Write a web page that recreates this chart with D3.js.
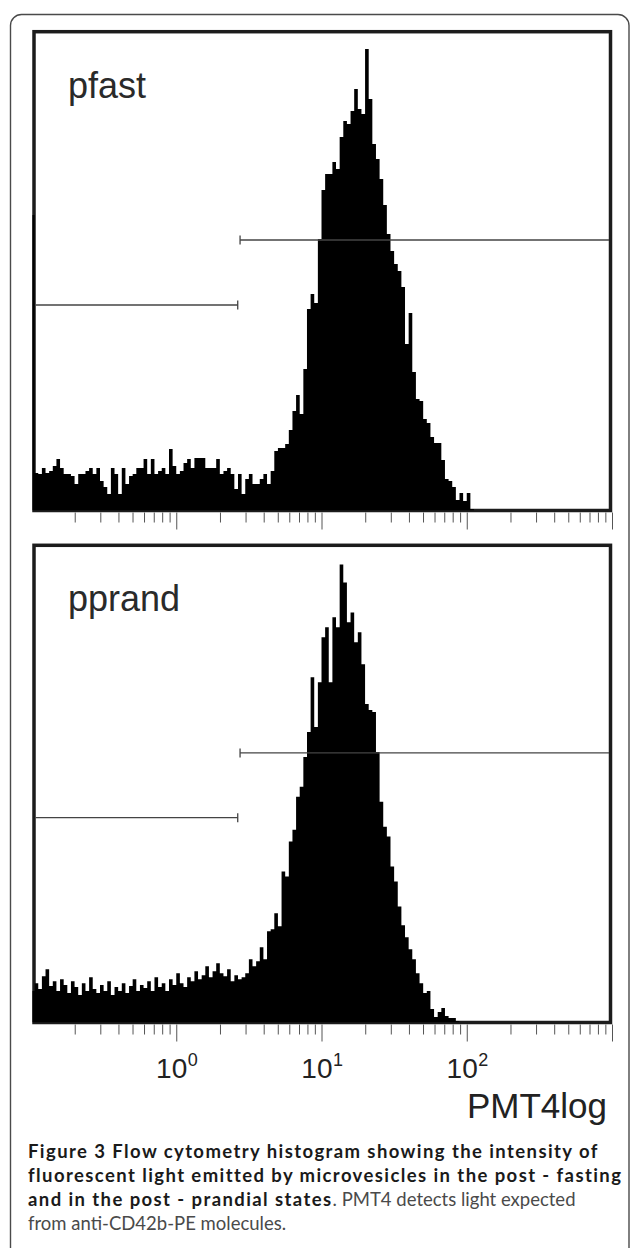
<!DOCTYPE html>
<html>
<head>
    <meta charset="UTF-8">
    <title>Figure 3</title>
    <script src="https://cdn.jsdelivr.net/npm/d3@7"></script>
    <style>
        body { margin: 0; background: #fff; }
    </style>
</head>
<body>
<svg id="chart"></svg>
<script>

    // panel names, one histogram per panel
    var panelNames = ["pfast", "pprand"]

    // events per bin, bins are 0.025 decades wide starting at 10^-1
    var pfastCounts = [
        294, 36, 35, 41, 36, 38, 43, 50, 41, 35,
        35, 33, 25, 35, 35, 38, 41, 35, 41, 28,
        22, 15, 41, 35, 15, 41, 25, 33, 35, 41,
        41, 50, 35, 50, 35, 38, 41, 35, 60, 43,
        35, 38, 46, 50, 41, 51, 51, 51, 41, 41,
        41, 50, 35, 38, 41, 35, 20, 35, 15, 30,
        35, 25, 25, 30, 35, 25, 38, 58, 61, 61,
        65, 79, 98, 114, 95, 140, 200, 215, 206, 270,
        319, 335, 335, 347, 340, 372, 388, 385, 398, 420,
        400, 395, 460, 410, 365, 350, 330, 304, 275, 258,
        245, 238, 222, 165, 196, 137, 110, 108, 90, 86,
        72, 66, 66, 49, 30, 28, 22, 9, 16, 8,
        16, 0
    ]

    var pprandCounts = [
        30, 38, 32, 45, 52, 35, 40, 30, 42, 36,
        28, 40, 34, 26, 38, 30, 44, 32, 28, 36,
        30, 40, 26, 34, 30, 38, 28, 35, 42, 30,
        36, 33, 40, 30, 44, 34, 38, 30, 42, 36,
        48, 38, 34, 44, 40, 50, 42, 46, 55, 44,
        50, 58, 48, 45, 52, 40, 46, 42, 44, 48,
        62, 55, 60, 74, 62, 90, 92, 108, 95, 150,
        145, 180, 192, 225, 235, 265, 290, 345, 295, 340,
        385, 395, 340, 405, 395, 458, 440, 400, 410, 380,
        390, 358, 318, 312, 310, 270, 220, 195, 185, 155,
        140, 115, 96, 84, 72, 62, 48, 38, 28, 30,
        12, 4, 9, 13, 5, 3, 3, 0
    ]

    var binStart = -1
    var binWidth = 0.025

    // marker regions (channel range) and their levels in events
    var gateRanges = [[0.1, 2.65], [2.75, 1000]]
    var gateLevels = [204, 269]

    var tickExponents = [0, 1, 2]
    var axisLabel = "PMT4log"

    var captionLines = [
        [["Figure 3 Flow cytometry histogram showing the intensity of", true]],
        [["fluorescent light emitted by microvesicles in the post - fasting", true]],
        [["and in the post - prandial states", true], [". PMT4 detects light expected", false]],
        [["from anti-CD42b-PE molecules.", false]]
    ]

    function drawChart() {

        var svgWidth = 630,
            svgHeight = 1248;

        var svg = d3.select("#chart")
            .attr("width", svgWidth)
            .attr("height", svgHeight);

        svg.append("rect")
            .attr("width", svgWidth)
            .attr("height", svgHeight)
            .attr("fill", "#fff");

        // outer figure frame
        svg.append("rect")
            .attr("x", 10.5)
            .attr("y", 14.5)
            .attr("width", 618.5)
            .attr("height", 1260)
            .attr("rx", 11)
            .attr("fill", "none")
            .attr("stroke", "#4a4a4a")
            .attr("stroke-width", 1.4);

        var x = d3.scaleLog().domain([0.1, 1000]).range([31, 612]);

        var boxLeft = 34, boxRight = 610.5;
        var panels = [
            { name: panelNames[0], counts: pfastCounts, y0: 31.7, y1: 510.5 },
            { name: panelNames[1], counts: pprandCounts, y0: 545.3, y1: 1022.5 }
        ];

        var minorTicks = [];
        for (var d = -1; d < 3; d++) {
            for (var k = 2; k <= 9; k++) minorTicks.push(k * Math.pow(10, d));
        }
        var majorTicks = [1, 10, 100, 1000];

        panels.forEach(function (p, pi) {

            var y = d3.scaleLinear().domain([0, 477]).range([p.y1 - 1.5, p.y0 + 0.3]);

            var bins = p.counts.map(function (c, i) {
                return { lo: Math.pow(10, binStart + i * binWidth), v: c };
            });
            bins.push({ lo: Math.pow(10, binStart + p.counts.length * binWidth), v: 0 });

            svg.append("clipPath")
                .attr("id", "clip" + pi)
                .append("rect")
                .attr("x", 32.5)
                .attr("y", p.y0)
                .attr("width", boxRight - 32.5)
                .attr("height", p.y1 - p.y0);

            // box
            svg.append("rect")
                .attr("x", boxLeft)
                .attr("y", p.y0)
                .attr("width", boxRight - boxLeft)
                .attr("height", p.y1 - p.y0)
                .attr("fill", "none")
                .attr("stroke", "#1c1c1c")
                .attr("stroke-width", 3.5);

            var area = d3.area()
                .curve(d3.curveStepAfter)
                .x(function (b) { return x(b.lo) })
                .y0(p.y1)
                .y1(function (b) { return y(b.v) });

            svg.append("path")
                .datum(bins)
                .attr("clip-path", "url(#clip" + pi + ")")
                .attr("fill", "#000")
                .attr("d", area);

            // marker lines
            gateRanges.forEach(function (r, gi) {
                var gy = y(gateLevels[gi]);
                var xa = Math.max(x(r[0]), boxLeft + 1.5);
                var xb = Math.min(x(r[1]), boxRight - 1.5);
                svg.append("line")
                    .attr("x1", xa).attr("x2", xb)
                    .attr("y1", gy).attr("y2", gy)
                    .attr("stroke", "#444")
                    .attr("stroke-width", 1.3);
                var capX = gi === 0 ? xb : xa;
                svg.append("line")
                    .attr("x1", capX).attr("x2", capX)
                    .attr("y1", gy - 4.5).attr("y2", gy + 4.5)
                    .attr("stroke", "#444")
                    .attr("stroke-width", 1.3);
            });

            svg.append("text")
                .attr("x", 68)
                .attr("y", p.y0 + 66)
                .attr("font-family", "'Liberation Sans', Arial, sans-serif")
                .attr("font-size", 36)
                .attr("fill", "#2a2a2a")
                .text(p.name);

            // log ticks under the box
            var axisY = p.y1 + 2;
            var gMinor = svg.append("g")
                .attr("transform", "translate(0," + axisY + ")")
                .call(d3.axisBottom(x).tickValues(minorTicks).tickSize(10).tickFormat(""));
            var gMajor = svg.append("g")
                .attr("transform", "translate(0," + axisY + ")")
                .call(d3.axisBottom(x).tickValues(majorTicks).tickSize(17).tickFormat(""));
            [gMinor, gMajor].forEach(function (g) {
                g.select(".domain").remove();
                g.selectAll("line").attr("stroke", "#555").attr("stroke-width", 1);
            });
        });

        // decade labels: base and exponent as two texts
        tickExponents.forEach(function (e) {
            var tx = x(Math.pow(10, e));
            svg.append("text")
                .attr("x", tx + 11)
                .attr("y", 1078)
                .attr("text-anchor", "end")
                .attr("font-family", "'Liberation Sans', Arial, sans-serif")
                .attr("font-size", 28)
                .attr("fill", "#222")
                .text("10");
            svg.append("text")
                .attr("x", tx + 11.5)
                .attr("y", 1066)
                .attr("font-family", "'Liberation Sans', Arial, sans-serif")
                .attr("font-size", 18)
                .attr("fill", "#222")
                .text(e);
        });

        svg.append("text")
            .attr("x", 607)
            .attr("y", 1118)
            .attr("text-anchor", "end")
            .attr("font-family", "'Liberation Sans', Arial, sans-serif")
            .attr("font-size", 35)
            .attr("fill", "#222")
            .text(axisLabel);

        // caption: fixed size, bold runs spaced out to the frame width
        var baselines = [1158, 1182, 1206, 1230];
        var targets = [596, 594];
        var capFont = "Lato, 'Open Sans', sans-serif";
        var fs = 18.5;

        function addPart(px, py, pt, ls) {
            return svg.append("text")
                .attr("x", px)
                .attr("y", py)
                .attr("font-family", capFont)
                .attr("font-size", fs)
                .attr("font-weight", pt[1] ? "bold" : "normal")
                .attr("letter-spacing", pt[1] ? ls : 0)
                .attr("fill", pt[1] ? "#1a1a1a" : "#4a4a4a")
                .text(pt[0]);
        }

        var boldSpacing = d3.min(targets, function (tw, i) {
            var pt = captionLines[i][0];
            var probe = addPart(0, -50, pt, 0);
            var w = probe.node().getComputedTextLength();
            probe.remove();
            return (tw - w) / pt[0].length;
        });

        captionLines.forEach(function (parts, li) {
            var cx = 28;
            parts.forEach(function (pt) {
                var t = addPart(cx, baselines[li], pt, boldSpacing);
                cx += t.node().getComputedTextLength();
            });
        });
    }

    drawChart();
</script>
</body>
</html>
